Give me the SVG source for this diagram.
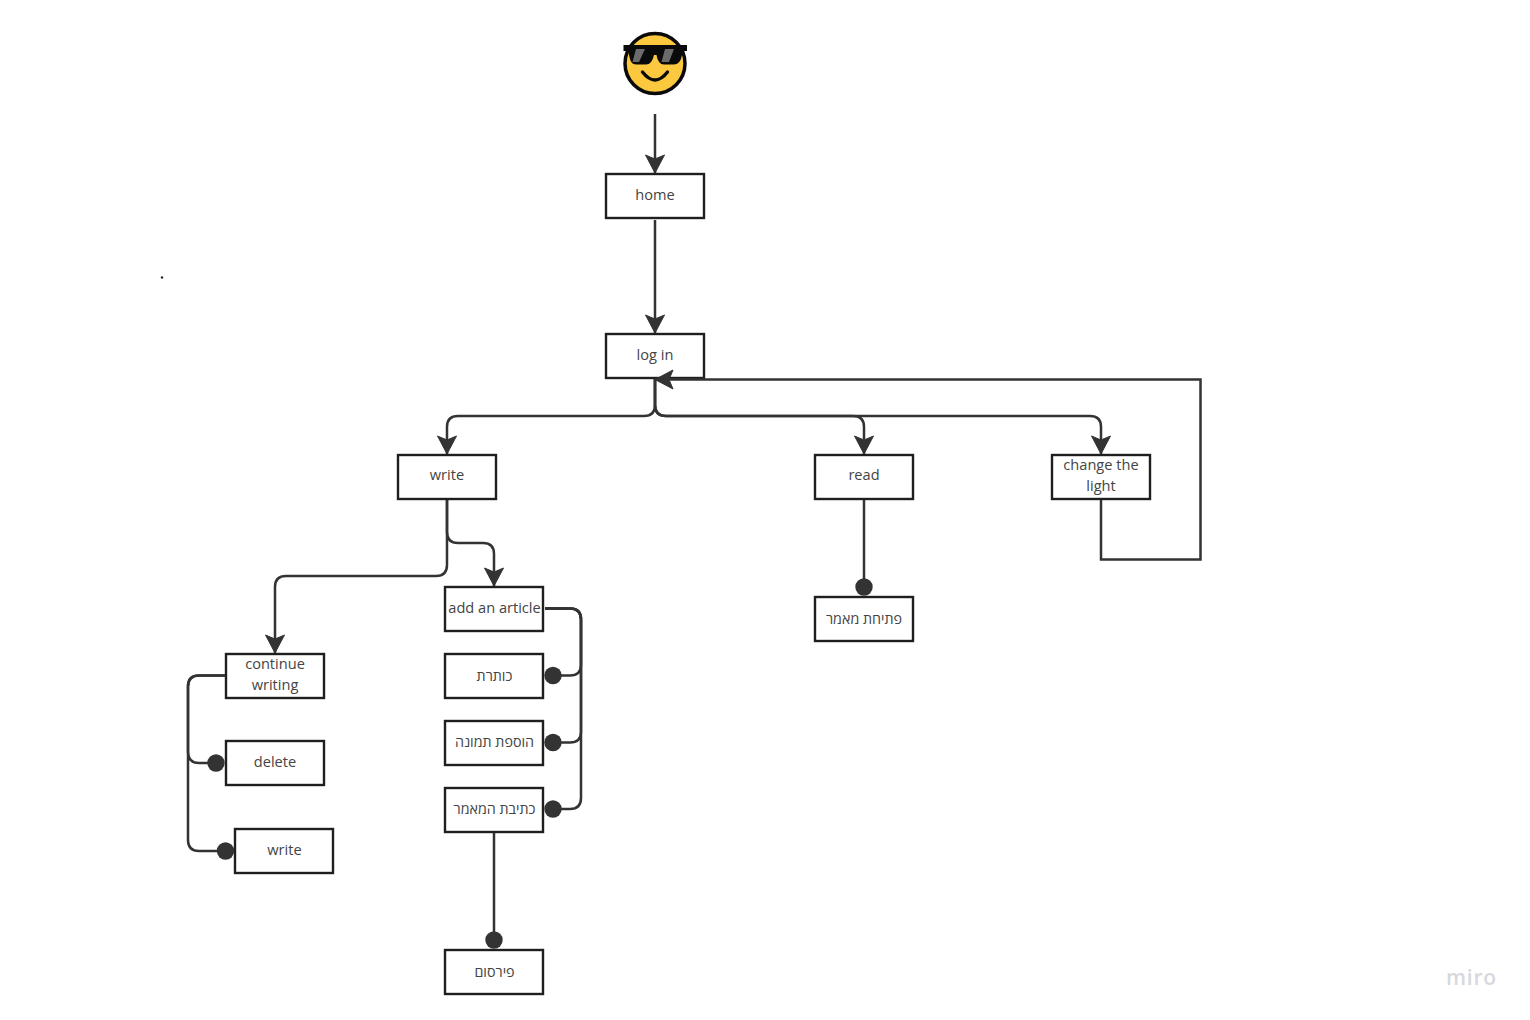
<svg xmlns="http://www.w3.org/2000/svg" width="1530" height="1020" viewBox="0 0 1530 1020">
<style>
.box{fill:#fff;stroke:#1f1f1f;stroke-width:2.4}
.lbl{font-family:"Open Sans","Noto Sans","DejaVu Sans",sans-serif;font-size:14.6px;fill:#444;text-anchor:middle}
.heb{font-size:14.3px}
.c{fill:none;stroke:#333;stroke-width:2.5}
</style>
<defs>
<marker id="arrow" markerUnits="userSpaceOnUse" markerWidth="24" markerHeight="24" refX="19" refY="11" orient="auto"><path d="M1 1.500 L19 11 L1 20.500 L5 11 Z" fill="#333" stroke="#333" stroke-width="1" stroke-linejoin="round"/></marker>
<marker id="dot" markerUnits="userSpaceOnUse" markerWidth="20" markerHeight="20" refX="10" refY="10" orient="auto"><circle cx="10" cy="10" r="8.7" fill="#333"/></marker>
</defs>
<rect width="1530" height="1020" fill="#fff"/>
<g id="home"><rect class="box" x="606" y="174" width="98" height="44"/><text class="lbl" x="655" y="200">home</text></g>
<g id="login"><rect class="box" x="606" y="334" width="98" height="44"/><text class="lbl" x="655" y="360">log in</text></g>
<g id="write"><rect class="box" x="398" y="455" width="98" height="44"/><text class="lbl" x="447" y="480">write</text></g>
<g id="read"><rect class="box" x="815" y="455" width="98" height="44"/><text class="lbl" x="864" y="480">read</text></g>
<g id="light"><rect class="box" x="1052" y="455" width="98" height="44"/><text class="lbl" x="1101" y="470">change the</text><text class="lbl" x="1101" y="491">light</text></g>
<g id="article"><rect class="box" x="445" y="587" width="98" height="44"/><text class="lbl" x="494.500" y="613">add an article</text></g>
<g id="open"><rect class="box" x="815" y="597" width="98" height="44"/><text class="lbl heb" x="864" y="623.500">פתיחת מאמר</text></g>
<g id="continue"><rect class="box" x="226" y="654" width="98" height="44"/><text class="lbl" x="275" y="669">continue</text><text class="lbl" x="275" y="690">writing</text></g>
<g id="title"><rect class="box" x="445" y="654" width="98" height="44"/><text class="lbl heb" x="494.500" y="680.500">כותרת</text></g>
<g id="image"><rect class="box" x="445" y="721" width="98" height="44"/><text class="lbl heb" x="494.500" y="746.500">הוספת תמונה</text></g>
<g id="delete"><rect class="box" x="226" y="741" width="98" height="44"/><text class="lbl" x="275" y="767">delete</text></g>
<g id="body"><rect class="box" x="445" y="788" width="98" height="44"/><text class="lbl heb" x="494.500" y="813.500">כתיבת המאמר</text></g>
<g id="write2"><rect class="box" x="235" y="829" width="98" height="44"/><text class="lbl" x="284.500" y="855">write</text></g>
<g id="publish"><rect class="box" x="445" y="950" width="98" height="44"/><text class="lbl heb" x="494.500" y="976.500">פירסום</text></g>
<g id="connectors">
<path class="c" marker-end="url(#arrow)" d="M655 114V173"/>
<path class="c" marker-end="url(#arrow)" d="M655 220V333"/>
<path class="c" marker-end="url(#arrow)" d="M655 379V405Q655 416 644 416H458Q447 416 447 427V454"/>
<path class="c" marker-end="url(#arrow)" d="M655 379V405Q655 416 666 416H853Q864 416 864 427V454"/>
<path class="c" marker-end="url(#arrow)" d="M655 379V405Q655 416 666 416H1090Q1101 416 1101 427V454"/>
<path class="c" marker-end="url(#arrow)" d="M1101 500V559.500H1200.500V379.500H655"/>
<path class="c" marker-end="url(#arrow)" d="M447 500V532Q447 543 458 543H483Q494 543 494 554V586"/>
<path class="c" marker-end="url(#arrow)" d="M447 500V565Q447 576 436 576H286Q275 576 275 587V653"/>
<path class="c" marker-end="url(#dot)" d="M864 500V587"/>
<path class="c" marker-end="url(#dot)" d="M545 608.500H570Q581 608.500 581 619.500V665Q581 675.500 570 675.500H553"/>
<path class="c" marker-end="url(#dot)" d="M545 608.500H570Q581 608.500 581 619.500V732Q581 742.500 570 742.500H553"/>
<path class="c" marker-end="url(#dot)" d="M545 608.500H570Q581 608.500 581 619.500V798Q581 809 570 809H553"/>
<path class="c" marker-end="url(#dot)" d="M494 833V940"/>
<path class="c" marker-end="url(#dot)" d="M225 675.500H199Q188 675.500 188 686.500V752Q188 763 199 763H216"/>
<path class="c" marker-end="url(#dot)" d="M225 675.500H199Q188 675.500 188 686.500V840Q188 851 199 851H225.500"/>
</g>
<g id="emoji">
<circle cx="655" cy="63.500" r="30" fill="#fcc83e" stroke="#0a0a0a" stroke-width="3.500"/>
<path d="M623.500 45H687V51H683L681 59Q679 64.500 673 64.500H664Q658 64.500 656.500 55H654Q652 64.500 646 64.500H637Q631 64.500 630 59L628 51H623.500Z" fill="#0a0a0a"/>
<path d="M636 49H645L639 62H632.500Z" fill="#6b6b6b"/>
<path d="M665 49H674L669 62H661.500Z" fill="#6b6b6b"/>
<path d="M642.500 72Q655 88 667.500 72" fill="none" stroke="#0a0a0a" stroke-width="3.400" stroke-linecap="round"/>
</g>
<circle cx="162" cy="277.500" r="1.200" fill="#222"/>
<text x="1446" y="985" font-family="Open Sans,Noto Sans,sans-serif" font-size="21" font-weight="600" letter-spacing="0.8" fill="#d6d8de">miro</text>
</svg>
